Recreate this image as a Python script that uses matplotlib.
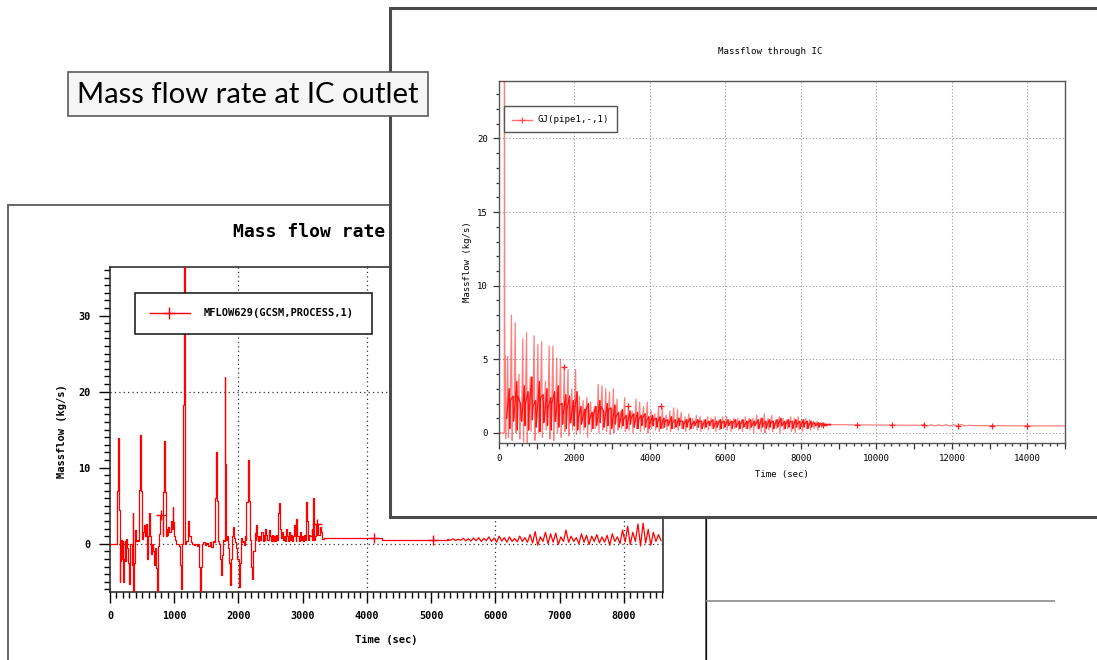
import numpy as np
import matplotlib
matplotlib.use("Agg")
import matplotlib.pyplot as plt
from matplotlib.patches import Rectangle
from matplotlib.lines import Line2D
from matplotlib.ticker import MultipleLocator, FuncFormatter

plt.rcParams['font.family'] = ['DejaVu Sans Mono']

# ---------------------------------------------------------------------------
# MFLOW629(GCSM,PROCESS,1): mass flow rate at IC outlet (kg/s) vs time (s)
# ---------------------------------------------------------------------------
mflow_t = [0, 114, 128, 140, 150, 160, 170, 180, 190, 200,
           207, 218, 228, 240, 252, 264, 280, 295, 305, 318,
           337, 352, 363, 374, 389, 405, 420, 434, 445, 466,
           482, 496, 508, 528, 544, 560, 580, 596, 606, 622,
           640, 658, 676, 690, 705, 715, 725, 741, 755, 767,
           777, 818, 829, 839, 855, 868, 880, 895, 910, 925,
           942, 958, 974, 984, 1000, 1010, 1030, 1060, 1077, 1088,
           1098, 1114, 1128, 1140, 1155, 1171, 1190, 1207, 1217, 1232,
           1254, 1280, 1305, 1330, 1355, 1373, 1388, 1399, 1414, 1430,
           1450, 1475, 1500, 1525, 1550, 1575, 1600, 1615, 1632, 1647,
           1663, 1680, 1695, 1709, 1725, 1740, 1761, 1777, 1787, 1797,
           1813, 1826, 1839, 1854, 1865, 1880, 1901, 1917, 1932, 1950,
           1968, 1984, 2005, 2020, 2041, 2057, 2072, 2086, 2098, 2111,
           2124, 2145, 2160, 2176, 2190, 2202, 2217, 2232, 2253, 2266,
           2279, 2295, 2310, 2325, 2340, 2358, 2375, 2392, 2408, 2419,
           2436, 2452, 2468, 2484, 2500, 2518, 2536, 2552, 2570, 2590,
           2605, 2616, 2626, 2642, 2658, 2675, 2690, 2706, 2722, 2738,
           2754, 2770, 2786, 2802, 2818, 2834, 2850, 2859, 2875, 2890,
           2901, 2916, 2935, 2955, 2970, 2985, 3000, 3015, 3030, 3046,
           3056, 3072, 3088, 3104, 3118, 3138, 3150, 3160, 3170, 3181,
           3191, 3207, 3218, 3227, 3245, 3263, 3284, 3305, 3326, 4237]
mflow_v = [0.0, 7.0, 13.9, 4.5, -5.0, -2.3, 0.5, -2.0, 0.4, -2.2,
           -5.0, -2.0, 0.4, -2.3, 0.6, -0.5, -2.6, -5.3, -2.6, 0.0,
           -2.8, 4.0, -6.5, -2.6, 1.8, 0.3, 0.5, 0.3, 7.1, 14.3,
           7.0, 0.6, 1.5, 2.5, 1.0, 2.6, -2.0, 1.0, 4.0, 1.0,
           -1.3, 0.0, -1.0, -2.8, -0.5, -3.2, -6.5, -3.2, -0.3, 1.3,
           3.8, 1.0, 6.8, 13.5, 6.8, 1.0, 2.0, 1.2, 2.2, 1.5,
           3.0, 2.0, 4.8, 2.9, 1.0, 0.5, 0.0, 0.0, -0.3, -2.8,
           -5.9, -2.8, 0.0, 18.2, 37.0, 0.0, 0.3, 1.2, 3.0, 1.0,
           0.2, 0.0, -0.2, 0.0, -0.3, 0.0, -3.0, -6.5, -3.0, 0.0,
           0.2, -0.2, 0.1, -0.3, 0.2, -0.4, 0.4, 0.2, 6.0, 12.0,
           5.6, 0.3, 0.0, -2.0, -4.1, -1.5, 0.5, 0.3, 21.9, 10.5,
           0.5, 1.0, -0.6, -2.5, -5.4, -2.0, 1.0, 2.2, 0.8, 0.2,
           -0.5, -2.0, -5.7, -2.5, 0.7, 0.2, 0.3, -0.2, 1.0, 0.5,
           5.5, 11.0, 5.6, 0.5, -0.3, -3.0, -4.7, -1.0, 1.4, 0.5,
           2.5, 1.0, 0.3, 1.0, 0.5, 1.5, 0.4, 1.2, 0.5, 2.0,
           1.2, 0.5, 1.8, 1.0, 0.3, 1.2, 0.4, 1.0, 0.3, 1.2,
           0.5, 4.0, 5.4, 2.0, 0.8, 1.5, 0.5, 1.0, 0.3, 2.0,
           1.0, 0.4, 1.5, 0.5, 1.2, 0.3, 1.0, 2.5, 1.0, 0.4,
           3.3, 1.0, 0.4, 1.5, 0.5, 1.0, 0.3, 1.2, 0.5, 3.0,
           5.5, 3.0, 0.5, 1.2, 1.0, 2.0, 0.5, 6.0, 2.8, 0.5,
           1.0, 2.6, 1.2, 2.6, 1.2, 2.2, 1.5, 0.6, 0.72, 0.55]
# late phase, sampled every 40 s from 5260 s
mflow_late_start = 5260
mflow_late_dt = 40
mflow_late_v = [0.55, 0.45, 0.65, 0.4, 0.6, 0.45, 0.7, 0.4, 0.65, 0.35, 0.75, 0.4, 0.8, 0.3, 0.7, 0.4,
                0.9, 0.3, 0.75, 0.2, 1.0, 0.35, 0.8, 0.2, 0.9, 0.3, 0.7, 0.25, 1.0, 0.3, 0.8,
                0.2, 1.2, 0.1, 1.6, -0.2, 0.9, 0.3, 1.5, 0.0, 1.3, 0.2, 1.4, -0.1, 0.9, 0.3,
                1.8, 0.2, 1.0, 0.3, 0.8, 0.0, 1.3, 0.2, 1.1, -0.1, 1.0, 0.3, 1.2, 0.1, 0.9,
                0.2, 1.1, -0.2, 1.3, 0.3, 0.9, 0.0, 1.8, 0.2, 2.3, -0.1, 1.5, 0.3, 2.6, -0.3,
                2.7, 0.1, 1.9, -0.2, 1.5, 0.3, 1.2, 0.4]
mflow_mark_t = [787, 3227, 4114, 5022]
mflow_mark_v = [3.8, 2.6, 0.72, 0.55]

# ---------------------------------------------------------------------------
# GJ(pipe1,-,1): massflow through IC (kg/s) vs time (s)
# ---------------------------------------------------------------------------
gj_head_t = [0, 120, 140, 145, 150, 155, 165, 175, 185]
gj_head_v = [0.0, 0.0, 0.0, 25.0, 11.8, 0.3, 5.2, -0.4, 1.0]
# oscillating phase: one cycle every 100 s starting at 200 s
gj_cycle_start = 200
gj_cycle_dt = 100
gj_peak = [5.2, 8.0, 7.5, 4.0, 6.4, 6.8, 3.8, 6.6, 6.0, 6.2,
           3.5, 5.9, 5.9, 5.1, 5.0, 4.5, 4.3, 3.0, 4.3, 2.5,
           2.2, 2.4, 2.1, 1.8, 3.3, 3.2, 3.0, 2.8, 3.0, 2.3,
           1.5, 2.4, 1.8, 1.5, 2.3, 2.1, 1.8, 2.1, 1.5, 1.3,
           1.8, 1.7, 1.2, 1.5, 1.7, 1.6, 1.4, 1.1, 1.3, 1.0,
           1.2, 1.1, 0.9, 1.1, 1.0, 1.1, 0.9, 1.1, 1.1, 0.9,
           1.0, 1.0, 0.9, 1.1, 1.0, 1.0, 1.2, 1.0, 1.3, 1.0,
           1.2, 0.9, 1.1, 1.0, 0.9, 1.1, 1.0, 1.1, 0.9, 1.0,
           0.9, 0.8, 0.8, 0.7, 0.65, 0.6]
gj_trough = [-0.3, -0.5, 0.0, -0.4, -0.6, -0.7, 0.1, -0.5, 0.0, -0.3,
             0.2, -0.4, -0.5, 0.0, -0.3, 0.1, -0.2, 0.2, -0.1, 0.0,
             0.2, -0.3, 0.1, 0.3, 0.0, 0.2, 0.1, -0.1, 0.0, 0.2,
             0.3, 0.1, 0.2, 0.0, 0.3, 0.1, 0.2, 0.0, 0.3, 0.2,
             0.1, 0.3, 0.2, 0.1, 0.3, 0.2, 0.3, 0.1, 0.2, 0.3,
             0.2, 0.1, 0.3, 0.2, 0.3, 0.1, 0.2, 0.3, 0.2, 0.1,
             0.3, 0.2, 0.1, 0.3, 0.2, 0.0, 0.3, 0.1, 0.0, 0.2,
             0.1, 0.3, 0.0, 0.2, 0.3, 0.1, 0.0, 0.2, 0.1, 0.3,
             0.2, 0.3, 0.2, 0.4, 0.45, 0.5]
gj_band = [1.0, 2.2, 1.2, 2.5, 0.8, 2.0, 1.5, 1.8, 1.0, 2.4,
           0.9, 1.7, 2.0, 0.8, 1.9, 1.2, 1.6, 0.7, 1.4, 1.0,
           0.8, 1.5, 0.9, 1.2, 0.7, 1.8, 0.8, 1.6, 0.6, 1.1,
           0.7, 0.9, 0.6, 1.0, 0.7, 0.9, 1.0, 0.8, 0.6, 0.9,
           0.7, 0.5, 0.8, 0.6, 0.7, 0.5, 0.8, 0.6, 0.7, 0.5,
           0.6, 0.8, 0.5, 0.6, 0.7, 0.5, 0.6, 0.7, 0.5, 0.6,
           0.7, 0.5, 0.6, 0.5, 0.7, 0.5, 0.6, 0.5, 0.6, 0.5,
           0.7, 0.5, 0.6, 0.5, 0.6, 0.7, 0.5, 0.6, 0.5, 0.6,
           0.5, 0.6, 0.5, 0.6, 0.55, 0.55]
gj_mid = [3.0, 2.5, 3.5, 2.0, 3.2, 2.8, 3.8, 2.2, 3.5, 2.6,
          3.0, 2.4, 2.8, 3.2, 2.0, 2.6, 2.5, 2.2, 2.8, 1.8,
          1.6, 2.0, 1.4, 1.8, 2.2, 1.5, 2.0, 1.7, 1.9, 1.4,
          1.6, 1.2, 1.5, 1.3, 1.4, 1.2, 1.3, 1.1, 1.2, 1.0,
          1.1, 1.0, 0.9, 1.1, 0.9, 1.0, 0.8, 0.9, 1.0, 0.8,
          0.9, 0.8, 0.9, 0.8, 0.9, 0.8, 0.9, 0.8, 0.9, 0.8,
          0.9, 0.8, 0.9, 0.8, 0.9, 0.8, 0.9, 1.0, 0.8, 0.9,
          0.8, 0.9, 1.0, 0.8, 0.9, 0.8, 0.9, 0.8, 0.9, 0.8,
          0.8, 0.7, 0.7, 0.65, 0.6, 0.6]
gj_low = [0.3, 0.8, 0.2, 1.0, 0.5, 0.2, 0.9, 0.4, 0.1, 0.7,
          0.5, 0.2, 0.8, 0.4, 0.6, 0.3, 0.7, 0.5, 0.2, 0.6,
          0.4, 0.6, 0.3, 0.5, 0.7, 0.4, 0.5, 0.3, 0.6, 0.4,
          0.5, 0.3, 0.6, 0.4, 0.3, 0.5, 0.4, 0.3, 0.5, 0.4,
          0.3, 0.4, 0.5, 0.3, 0.4, 0.5, 0.3, 0.4, 0.3, 0.5,
          0.4, 0.3, 0.4, 0.5, 0.3, 0.4, 0.3, 0.4, 0.5, 0.3,
          0.4, 0.3, 0.4, 0.3, 0.4, 0.5, 0.3, 0.4, 0.3, 0.4,
          0.3, 0.4, 0.5, 0.3, 0.4, 0.3, 0.4, 0.3, 0.4, 0.3,
          0.4, 0.5, 0.4, 0.5, 0.5, 0.55]
gj_tail_t = [8800, 8900, 9000, 9200, 9500, 9800, 10100, 10400, 10700, 11000,
             11150, 11250, 11350, 11450, 11550, 11650, 11750, 11850, 11950, 12050,
             12150, 12250, 12350, 12450, 12600, 13000, 13500, 14000, 14500, 15000]
gj_tail_v = [0.58, 0.56, 0.57, 0.56, 0.55, 0.55, 0.54, 0.54, 0.53, 0.53,
             0.52, 0.58, 0.47, 0.56, 0.48, 0.55, 0.49, 0.56, 0.47, 0.57,
             0.46, 0.58, 0.48, 0.52, 0.50, 0.50, 0.49, 0.48, 0.48, 0.48]
gj_mark_t = [1725, 3430, 4300, 8585, 9486, 10405, 11263, 12172, 13073, 14001]
gj_mark_v = [4.5, 1.8, 1.85, 0.57, 0.55, 0.54, 0.52, 0.50, 0.49, 0.48]

# ---------------------------------------------------------------------------
W, H = 1097, 660
fig = plt.figure(figsize=(W / 100, H / 100), dpi=100)
fig.patch.set_facecolor('white')
TF = fig.transFigure


def fx(x):
    return x / W


def fy(y):
    return 1 - y / H


def rect_px(x0, y0, x1, y1):
    return [fx(x0), fy(y1), (x1 - x0) / W, (y1 - y0) / H]


def box(x0, y0, x1, y1, z, fc='white', ec='#555555', lw=1.0):
    r = Rectangle((fx(x0), fy(y1)), (x1 - x0) / W, (y1 - y0) / H,
                  transform=TF, facecolor=fc, edgecolor=ec, linewidth=lw,
                  zorder=z)
    fig.add_artist(r)
    return r


def seg(x0, y0, x1, y1, z, color, lw):
    fig.add_artist(Line2D([fx(x0), fx(x1)], [fy(y0), fy(y1)], transform=TF,
                          color=color, linewidth=lw, zorder=z,
                          solid_capstyle='butt'))


# back window
box(8, 205, 706, 700, 0.5, ec='#5a5a5a', lw=1.3)

# ---------------- left chart ----------------
ax1 = fig.add_axes(rect_px(110, 267, 663, 592))
ax1.set_zorder(1)
late_t = mflow_late_start + mflow_late_dt * np.arange(len(mflow_late_v))
# transient part is held between samples; late ripple is drawn point to point
ax1.plot(list(mflow_t) + [late_t[0]], list(mflow_v) + [mflow_late_v[0]],
         color='#ff0000', lw=0.9, drawstyle='steps-post', zorder=3)
ax1.plot(late_t, mflow_late_v, color='#ff0000', lw=0.9, zorder=3)
ax1.plot(mflow_mark_t, mflow_mark_v, ls='none', marker='+', ms=7, mew=1.0,
         color='#ff0000', zorder=3)
ax1.set_xlim(0, 8610)
ax1.set_ylim(-6.35, 36.4)
for gx in (2000, 4000, 6000, 8000):
    ax1.axvline(gx, color='#333333', lw=0.9, ls=(0, (1, 2.5)), zorder=1)
for gy in (0, 20):
    ax1.axhline(gy, color='#333333', lw=0.9, ls=(0, (1, 2.5)), zorder=1)
ax1.xaxis.set_major_locator(MultipleLocator(1000))
ax1.xaxis.set_minor_locator(MultipleLocator(100))
ax1.yaxis.set_major_locator(MultipleLocator(10))
ax1.yaxis.set_minor_locator(MultipleLocator(1))
ax1.tick_params(which='major', direction='out', length=8, width=1.0,
                labelsize=7.3, pad=6, top=False, right=False)
ax1.tick_params(which='minor', direction='out', length=4.5, width=1.0,
                top=False, right=False)
for lab in ax1.get_xticklabels() + ax1.get_yticklabels():
    lab.set_fontweight('bold')
for s in ax1.spines.values():
    s.set_linewidth(1.1)
    s.set_color('#222222')

fig.text(fx(233), fy(232), 'Mass flow rate', fontsize=13,
         fontweight='bold', ha='left', va='center', zorder=0.8)
fig.text(fx(62), fy(431), 'Massflow (kg/s)', fontsize=7.5, fontweight='bold',
         rotation=90, ha='center', va='center', zorder=0.8)
fig.text(fx(386), fy(640), 'Time (sec)', fontsize=7.5, fontweight='bold',
         ha='center', va='center', zorder=0.8)

# legend of the left chart
box(135, 293, 372, 334, 1.5, ec='#111111', lw=1.1)
fig.add_artist(Line2D([fx(150), fx(190)], [fy(313), fy(313)], transform=TF,
                      color='#ff0000', lw=1.0, zorder=1.6))
fig.add_artist(Line2D([fx(169)], [fy(313)], transform=TF, color='#ff0000',
                      marker='+', ms=8, mew=1.0, zorder=1.6))
fig.text(fx(204), fy(313), 'MFLOW629(GCSM,PROCESS,1)', fontsize=7.5,
         fontweight='bold', ha='left', va='center', zorder=1.6)

# ---------------- other slide lines ----------------
seg(706, 517, 706, 662, 1.7, '#111111', 0.9)
seg(706, 601, 1055, 601, 1.7, '#8a8a8a', 1.2)

# front window
box(390, 8, 1115, 517, 2.0, ec='#4a4a4a', lw=2.2)

# ---------------- right chart ----------------
ax2 = fig.add_axes(rect_px(499, 81, 1065, 443))
ax2.set_zorder(3)
ct = gj_cycle_start + gj_cycle_dt * np.arange(len(gj_peak))
cyc_t = np.column_stack([ct, ct + 30, ct + 50, ct + 70, ct + 85]).ravel()
cyc_v = np.column_stack([gj_band, gj_peak, gj_trough, gj_mid, gj_low]).ravel()
t2 = np.concatenate([gj_head_t, cyc_t, gj_tail_t])
v2 = np.concatenate([gj_head_v, cyc_v, gj_tail_v])
# full trace, light
ax2.plot(t2, v2, color='#ff0000', lw=0.9, alpha=0.5, zorder=3)
# the dense lower band of the same trace, drawn a second time for weight
bt = np.column_stack([ct, ct + 70, ct + 85]).ravel()
bv = np.column_stack([gj_band, gj_mid, gj_low]).ravel()
ax2.plot(bt, bv, color='#ff0000', lw=0.9, alpha=0.85, zorder=3)
ax2.plot(gj_mark_t, gj_mark_v, ls='none', marker='+', ms=5, mew=0.9,
         color='#ff2020', zorder=3)
ax2.set_xlim(0, 15000)
ax2.set_ylim(-0.68, 23.9)
for gx in range(2000, 15000, 2000):
    ax2.axvline(gx, color='#9a9a9a', lw=0.8, ls=(0, (1, 2)), zorder=1)
for gy in range(0, 25, 5):
    ax2.axhline(gy, color='#9a9a9a', lw=0.8, ls=(0, (1, 2)), zorder=1)
ax2.xaxis.set_major_locator(MultipleLocator(1000))
ax2.xaxis.set_minor_locator(MultipleLocator(200))
ax2.xaxis.set_major_formatter(FuncFormatter(
    lambda v, p: '%d' % v if int(round(v)) % 2000 == 0 else ''))
ax2.yaxis.set_major_locator(MultipleLocator(5))
ax2.yaxis.set_minor_locator(MultipleLocator(1))
ax2.tick_params(which='major', direction='out', length=4.5, width=0.9,
                labelsize=6.5, pad=3.5, top=False, right=False, color='#333333')
ax2.tick_params(which='minor', direction='out', length=2.5, width=0.9,
                top=False, right=False, color='#333333')
for s in ax2.spines.values():
    s.set_linewidth(1.0)
    s.set_color('#555555')

fig.text(fx(770), fy(52), 'Massflow through IC', fontsize=6.6,
         ha='center', va='center', zorder=3.5)
fig.text(fx(468), fy(262), 'Massflow (kg/s)', fontsize=6.5, rotation=90,
         ha='center', va='center', zorder=3.5)
fig.text(fx(782), fy(474), 'Time (sec)', fontsize=6.5,
         ha='center', va='center', zorder=3.5)

# legend of the right chart
box(504, 106, 617, 132, 3.6, ec='#555555', lw=1.0)
fig.add_artist(Line2D([fx(512), fx(532)], [fy(120), fy(120)], transform=TF,
                      color='#ff7070', lw=1.0, zorder=3.7))
fig.add_artist(Line2D([fx(522)], [fy(120)], transform=TF, color='#ff5050',
                      marker='+', ms=5, mew=0.9, zorder=3.7))
fig.text(fx(538), fy(120), 'GJ(pipe1,-,1)', fontsize=6.6, ha='left',
         va='center', zorder=3.7)

# ---------------- slide caption ----------------
box(68, 72, 428, 116, 4.0, fc='#f6f6f6', ec='#5a5a5a', lw=1.2)
cap = fig.text(fx(248), fy(95), 'Mass flow rate at IC outlet', fontsize=18,
               family='Lato', ha='center', va='center', zorder=4.1)
fig.canvas.draw()
wpx = cap.get_window_extent().width
cap.set_fontsize(18 * 340.0 / wpx)

fig.savefig('out.png', dpi=100)
